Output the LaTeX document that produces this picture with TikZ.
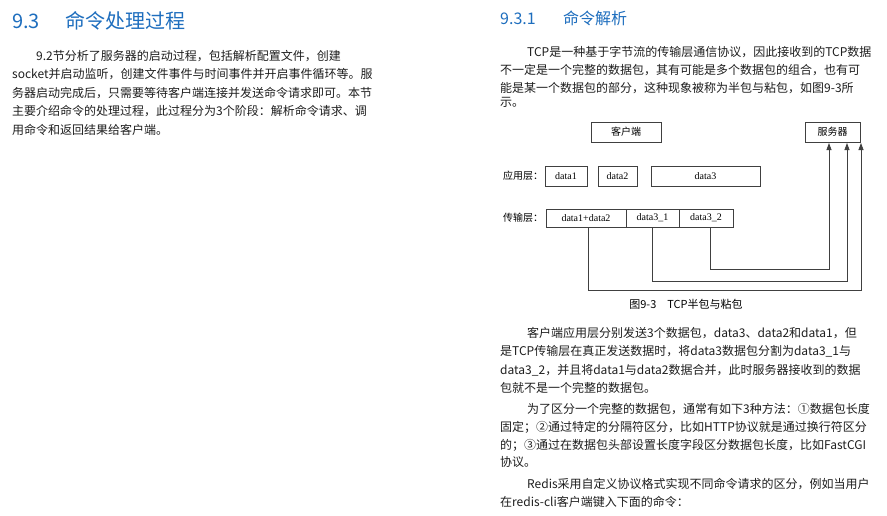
\documentclass[tikz,border=0pt]{standalone}
\usepackage{fontspec}
\setmainfont{Noto Sans CJK SC}
\newfontfamily\dserif{Liberation Serif}
\usetikzlibrary{arrows.meta}
\definecolor{tblue}{RGB}{30,110,190}
\definecolor{txt}{RGB}{30,30,30}
\tikzset{
 ln/.style={anchor=base west,inner sep=0pt,font=\fontsize{12}{14}\selectfont,text=txt},
 hd/.style={anchor=base west,inner sep=0pt,text=tblue},
 bx/.style={draw=black!75,line width=0.8pt,minimum height=20pt,inner sep=0pt,font=\dserif\fontsize{10}{12}\selectfont},
 lbl/.style={inner sep=0pt,font=\fontsize{10}{12}\selectfont},
 ar/.style={draw=black!75,line width=0.8pt,-{Triangle[length=7pt,width=5pt]}}
}
\begin{document}
\begin{tikzpicture}[x=1pt,y=-1pt]
\useasboundingbox[fill=white] (0,0) rectangle (887,515);
% left column
\node[hd,font=\fontsize{20}{24}\selectfont] (t1) at (12,28) {9.3};
\node[hd,font=\fontsize{20}{24}\selectfont] (t2) at (65,28) {命令处理过程};
\node[ln] (l1) at (36,60) {9.2节分析了服务器的启动过程，包括解析配置文件，创建};
\node[ln] (l2) at (12,78.5) {socket并启动监听，创建文件事件与时间事件并开启事件循环等。服};
\node[ln] (l3) at (12,97) {务器启动完成后，只需要等待客户端连接并发送命令请求即可。本节};
\node[ln] (l4) at (12,115.5) {主要介绍命令的处理过程，此过程分为3个阶段：解析命令请求、调};
\node[ln] (l5) at (12,134) {用命令和返回结果给客户端。};
% right column
\node[hd,font=\fontsize{16}{19}\selectfont] (s1) at (500,24) {9.3.1};
\node[hd,font=\fontsize{16}{19}\selectfont] (s2) at (563,24) {命令解析};
\node[ln] (r1) at (527,56) {TCP是一种基于字节流的传输层通信协议，因此接收到的TCP数据};
\node[ln] (r2) at (500,74.5) {不一定是一个完整的数据包，其有可能是多个数据包的组合，也有可};
\node[ln] (r3) at (500,92) {能是某一个数据包的部分，这种现象被称为半包与粘包，如图9-3所};
\node[ln] (r4) at (500,106) {示。};
% diagram
\node[bx,minimum width=70pt] (cli) at (626,132) {\fontsize{10}{12}\rmfamily 客户端};
\node[bx,minimum width=55pt] (srv) at (832.5,132) {\fontsize{10}{12}\rmfamily 服务器};
\node[lbl] (app) at (523,176) {应用层：};
\node[bx,minimum width=42pt] (d1) at (566,176) {data1};
\node[bx,minimum width=39pt] (d2) at (617.5,176) {data2};
\node[bx,minimum width=109pt] (d3) at (705.5,176) {data3};
\node[lbl] (tra) at (523,218) {传输层：};
\node[bx,minimum width=80pt,minimum height=18pt] (t12) at (586,218) {data1+data2};
\node[bx,minimum width=53pt,minimum height=18pt] (t31) at (652.5,218) {data3\_1};
\node[bx,minimum width=54pt,minimum height=18pt] (t32) at (706,218) {data3\_2};
\coordinate (a1) at (861,143);
\coordinate (a2) at (847,143);
\coordinate (a3) at (829,143);
\draw[ar] (t12.south -| 588,0) -- (588,290) -- (861,290) -- (a1);
\draw[ar] (t31.south) -- (652.5,281) -- (847,281) -- (a2);
\draw[ar] (t32.south -| 710,0) -- (710,269) -- (829,269) -- (a3);
\node[lbl,font=\fontsize{11}{13}\selectfont] (cap) at (686,304) {图9-3\quad TCP半包与粘包};
% following paragraphs
\node[ln] (p1) at (527,337) {客户端应用层分别发送3个数据包，data3、data2和data1，但};
\node[ln] (p2) at (500,355.5) {是TCP传输层在真正发送数据时，将data3数据包分割为data3\_1与};
\node[ln] (p3) at (500,374) {data3\_2，并且将data1与data2数据合并，此时服务器接收到的数据};
\node[ln] (p4) at (500,392) {包就不是一个完整的数据包。};
\node[ln] (q1) at (527,413) {为了区分一个完整的数据包，通常有如下3种方法：①数据包长度};
\node[ln] (q2) at (500,431) {固定；②通过特定的分隔符区分，比如HTTP协议就是通过换行符区分};
\node[ln] (q3) at (500,449) {的；③通过在数据包头部设置长度字段区分数据包长度，比如FastCGI};
\node[ln] (q4) at (500,466) {协议。};
\node[ln] (u1) at (527,488) {Redis采用自定义协议格式实现不同命令请求的区分，例如当用户};
\node[ln] (u2) at (500,506) {在redis-cli客户端键入下面的命令：};
\end{tikzpicture}
\end{document}
